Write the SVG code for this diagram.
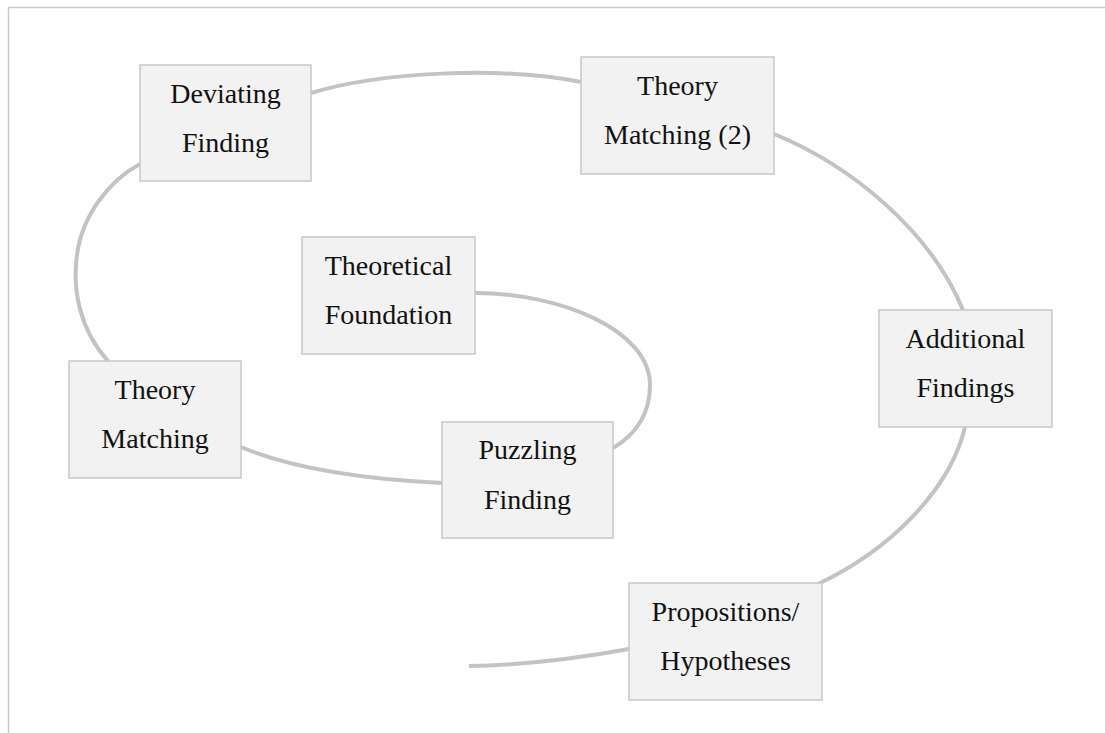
<svg xmlns="http://www.w3.org/2000/svg" width="1105" height="733" viewBox="0 0 1105 733">
<style>
.box{fill:#f2f2f2;stroke:#c8c8c8;stroke-width:1.5}
.lbl{font-size:28px;fill:#111111;text-anchor:middle}
.conn{fill:none;stroke:#c3c3c3;stroke-width:4}
.frame{fill:none;stroke:#c8c8c8;stroke-width:1.5}
</style>
<rect width="1105" height="733" fill="#ffffff"/>
<path class="frame" d="M8.5,740 L8.5,7.5 L1110,7.5"/>
<g id="connectors">
<path class="conn" d="M475,293 C560,293 650,330 650,385 C650,415 635,435 613,448"/>
<path class="conn" d="M442,483 C380,480 300,472 241,447"/>
<path class="conn" d="M108,361 C80,330 72,290 77,255 C82,215 110,180 140,164"/>
<path class="conn" d="M311,93 C380,72 500,66 581,82"/>
<path class="conn" d="M774,134 C850,165 930,230 963,310"/>
<path class="conn" d="M965,427 C950,490 890,550 818,584"/>
<path class="conn" d="M629,649 C580,658 530,665 469,666"/>
</g>
<g font-family="Liberation Serif, Times New Roman, DejaVu Serif, serif">
<g id="theoretical-foundation">
<rect class="box" x="302" y="237" width="173" height="117"/>
<text class="lbl" x="388.5" y="275">Theoretical</text>
<text class="lbl" x="388.5" y="324">Foundation</text>
</g>
<g id="puzzling-finding">
<rect class="box" x="442" y="422" width="171" height="116"/>
<text class="lbl" x="527.5" y="459">Puzzling</text>
<text class="lbl" x="527.5" y="509">Finding</text>
</g>
<g id="theory-matching">
<rect class="box" x="69" y="361" width="172" height="117"/>
<text class="lbl" x="155" y="399">Theory</text>
<text class="lbl" x="155" y="448">Matching</text>
</g>
<g id="deviating-finding">
<rect class="box" x="140" y="65" width="171" height="116"/>
<text class="lbl" x="225.5" y="103">Deviating</text>
<text class="lbl" x="225.5" y="152">Finding</text>
</g>
<g id="theory-matching-2">
<rect class="box" x="581" y="57" width="193" height="117"/>
<text class="lbl" x="677.5" y="95">Theory</text>
<text class="lbl" x="677.5" y="144">Matching (2)</text>
</g>
<g id="additional-findings">
<rect class="box" x="879" y="310" width="173" height="117"/>
<text class="lbl" x="965.5" y="348">Additional</text>
<text class="lbl" x="965.5" y="397">Findings</text>
</g>
<g id="propositions-hypotheses">
<rect class="box" x="629" y="583" width="193" height="117"/>
<text class="lbl" x="725.5" y="621">Propositions/</text>
<text class="lbl" x="725.5" y="670">Hypotheses</text>
</g>
</g>
</svg>
